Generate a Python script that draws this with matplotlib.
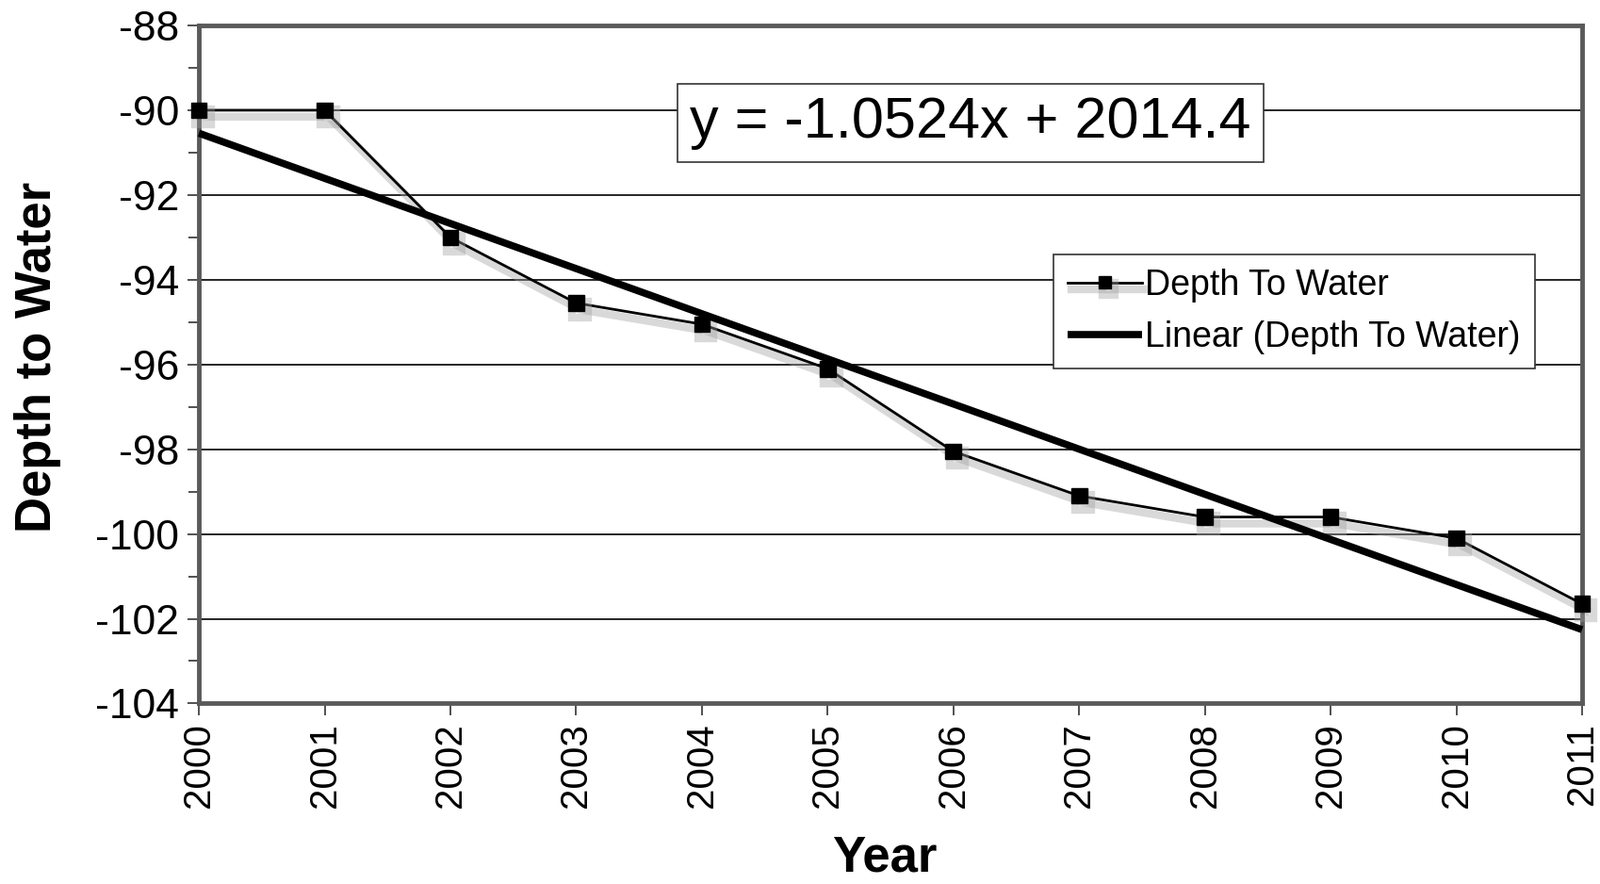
import numpy as np
from matplotlib import pyplot as plt
from matplotlib import patheffects
from matplotlib.ticker import MultipleLocator

plt.rcParams['font.family'] = ['Liberation Sans', 'DejaVu Sans']
plt.rcParams['axes.unicode_minus'] = False

# values
years = [2000, 2001, 2002, 2003, 2004, 2005, 2006, 2007, 2008, 2009, 2010, 2011]
depth = [-90.0, -90.0, -93.0, -94.55, -95.05, -96.1, -98.05, -99.1, -99.6, -99.6, -100.1, -101.65]
equation_text = "y = -1.0524x + 2014.4"
series_label = "Depth To Water"
trend_label = "Linear (Depth To Water)"

# linear trend line from the data
coef = np.polyfit(years, depth, 1)
trend = np.polyval(coef, years)

fig = plt.figure(figsize=(16.98, 9.38), dpi=100)
ax = fig.add_axes([0.1243, 0.2042, 0.8645, 0.767])

shadow = [patheffects.SimpleLineShadow(offset=(3, -5), shadow_color='#a0a0a0', alpha=0.4, linewidth=6),
          patheffects.Normal()]
ax.plot(years, depth, color='black', linewidth=2.0, marker='s', markersize=12,
        markerfacecolor='black', markeredgecolor='black', label=series_label,
        clip_on=False, zorder=3, path_effects=shadow)
ax.plot(years, trend, color='black', linewidth=5.5, label=trend_label,
        clip_on=False, zorder=4, solid_capstyle='butt')

ax.set_xlim(2000, 2011)
ax.set_ylim(-104, -88)
ax.set_xticks(years)
ax.set_xticklabels([str(y) for y in years], rotation=90)
ax.yaxis.set_major_locator(MultipleLocator(2))
ax.yaxis.set_minor_locator(MultipleLocator(1))
ax.tick_params(axis='x', which='major', labelsize=29, direction='out',
               length=9, width=1.2, color='#333333', pad=6)
ax.tick_params(axis='y', which='major', labelsize=32, direction='out',
               length=9, width=1.2, color='#333333', pad=6)
ax.tick_params(axis='y', which='minor', direction='out', length=8, width=1.2, color='#333333')

ax.grid(axis='y', which='major', color='black', linewidth=1.2)
ax.set_axisbelow(True)
for s in ax.spines.values():
    s.set_color('#5a5a5a')
    s.set_linewidth(3.5)

fig.text(0.0235, 0.5955, "Depth to Water", rotation=90, fontsize=38,
         fontweight='bold', ha='center', va='center')
fig.text(0.553, 0.014, "Year", fontsize=38, fontweight='bold',
         ha='center', va='baseline')

fig.text(0.6066, 0.8609, equation_text, fontsize=44, ha='center', va='center',
         bbox=dict(boxstyle='square,pad=0.22', facecolor='white',
                   edgecolor='#333333', linewidth=1.2))

leg = ax.legend(loc='upper left', bbox_to_anchor=(0.6584, 0.7122),
                bbox_transform=fig.transFigure, fontsize=27, frameon=True,
                fancybox=False, borderaxespad=0, borderpad=0.4,
                handlelength=2.1, handletextpad=0.1, labelspacing=0.5,
                markerscale=0.8)
leg.get_frame().set_edgecolor('#333333')
leg.get_frame().set_linewidth(1.2)
leg.get_frame().set_alpha(1)

plt.savefig('out.png', dpi=100)
plt.close()
